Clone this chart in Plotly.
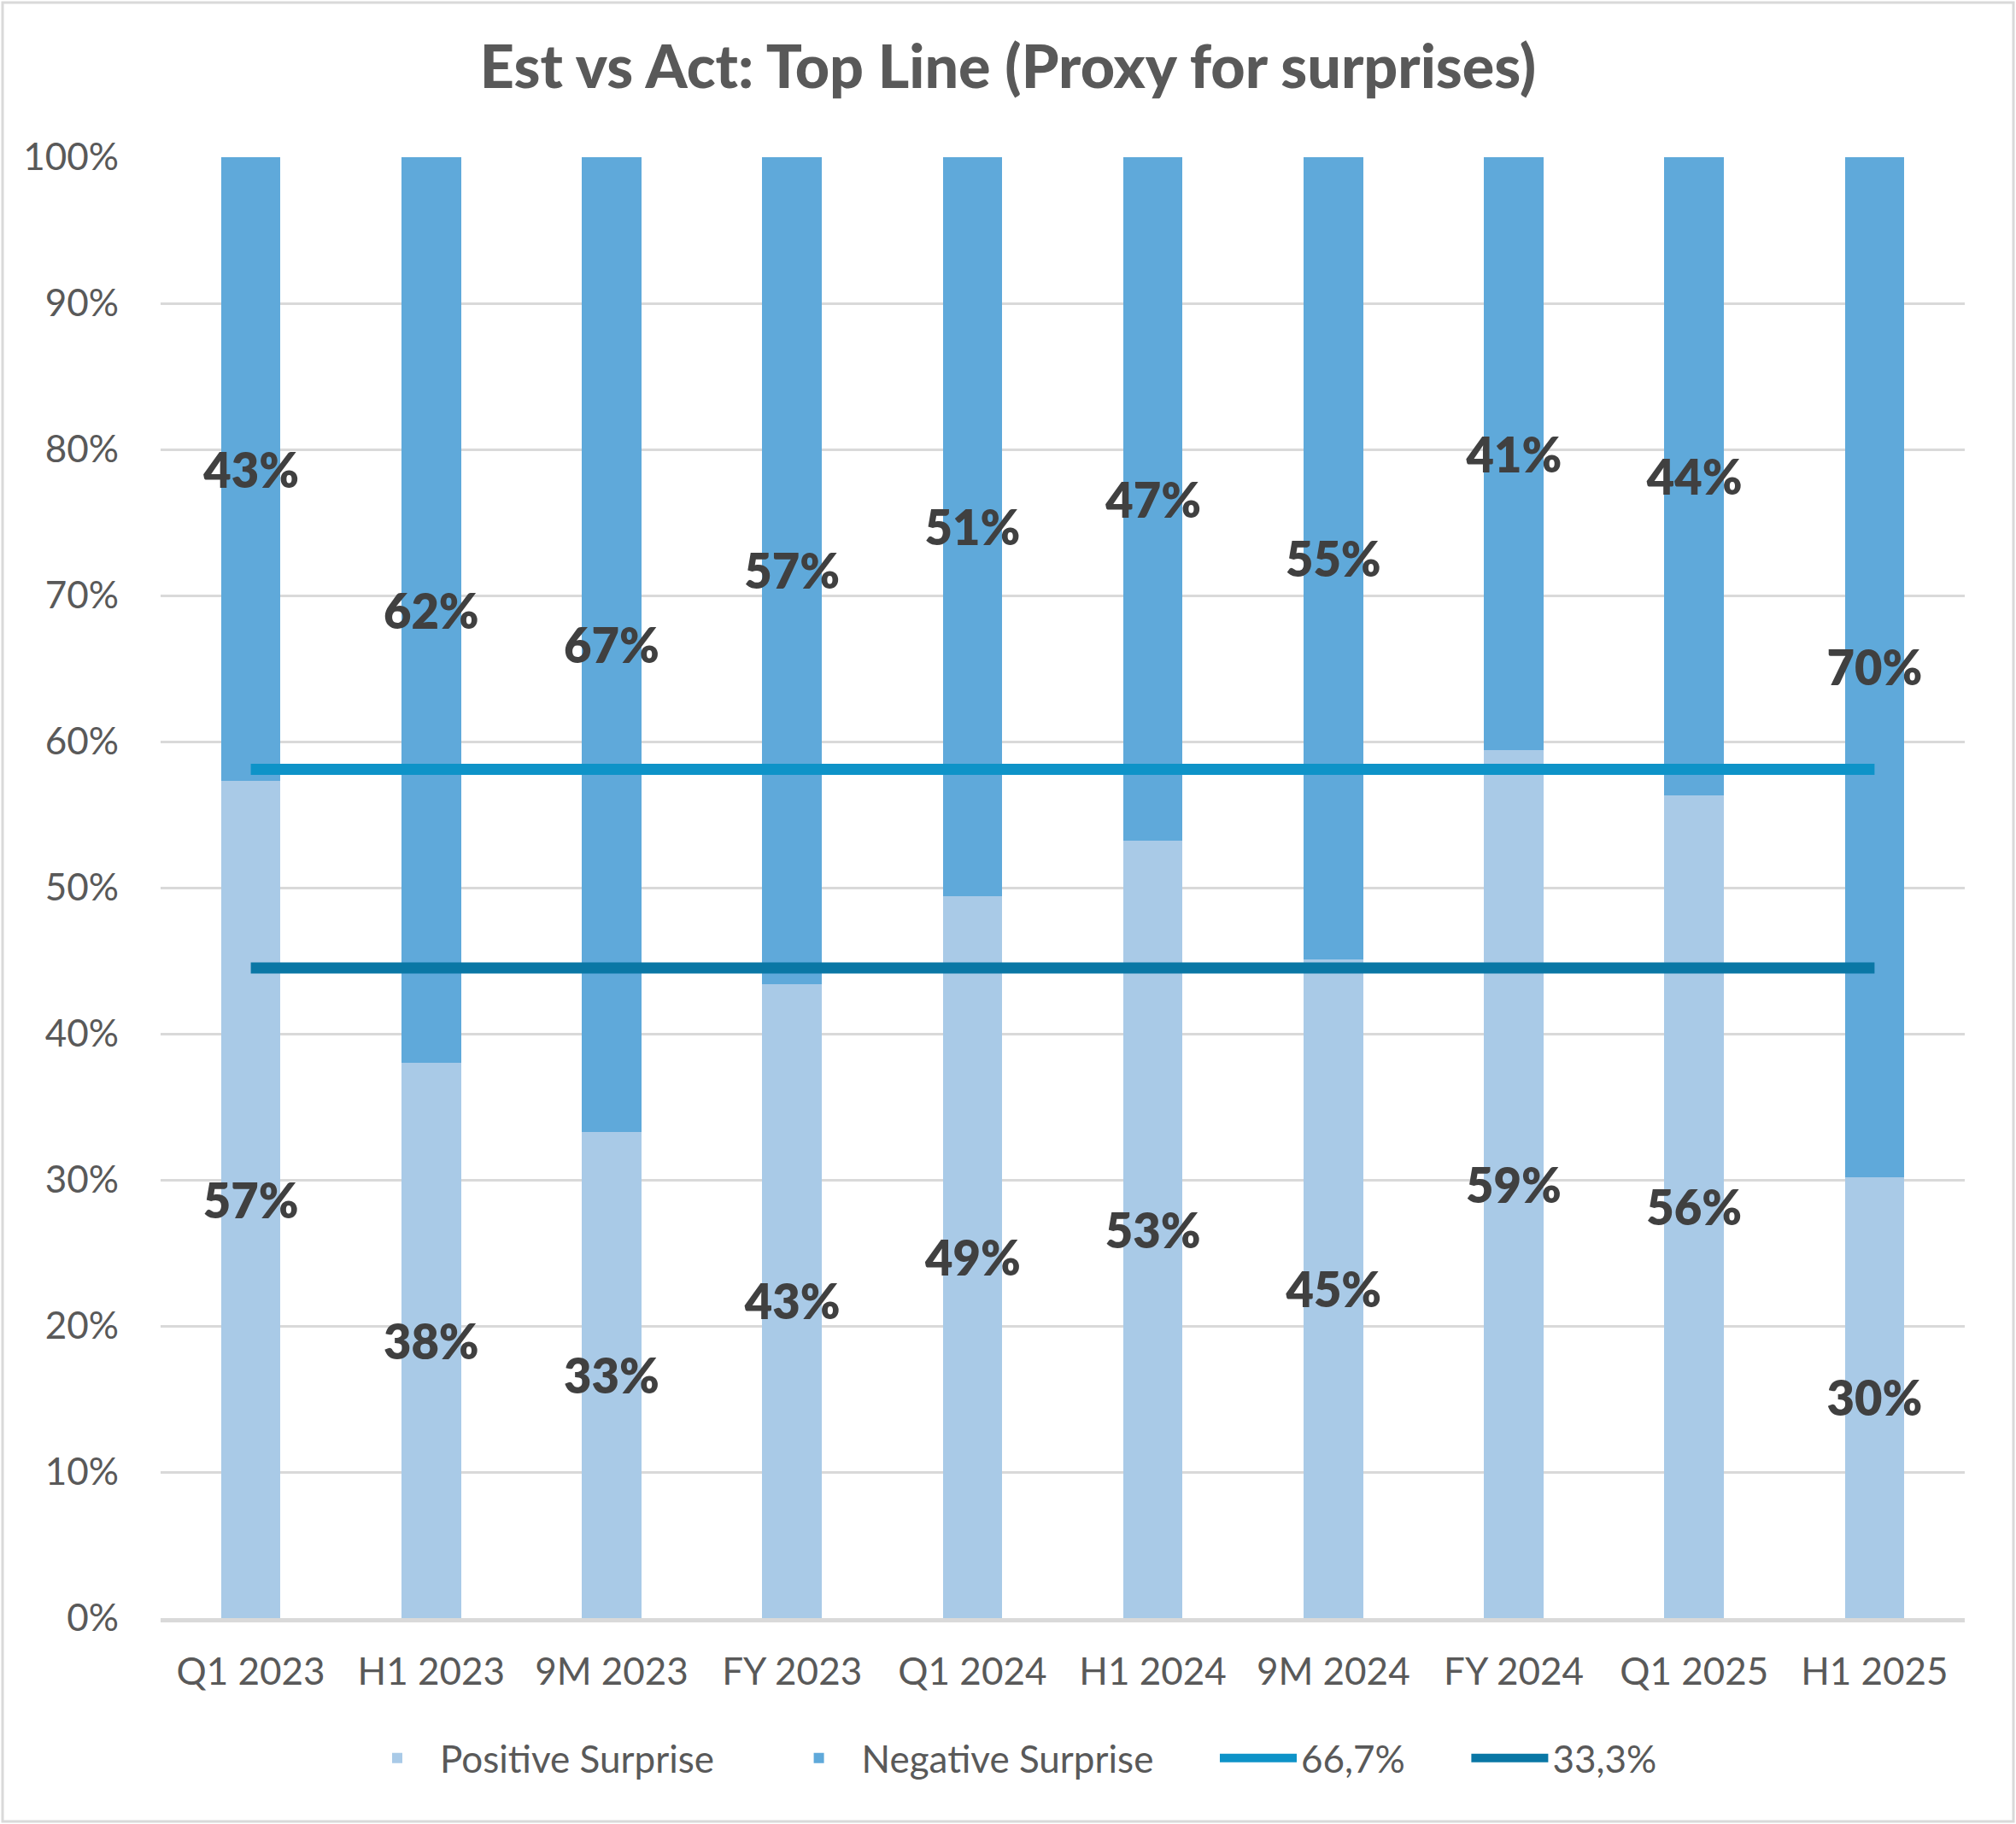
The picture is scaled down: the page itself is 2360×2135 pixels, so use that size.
import plotly.graph_objects as go

categories = ["Q1 2023", "H1 2023", "9M 2023", "FY 2023", "Q1 2024",
              "H1 2024", "9M 2024", "FY 2024", "Q1 2025", "H1 2025"]
positive = [57.3, 38.0, 33.3, 43.4, 49.4, 53.2, 45.1, 59.4, 56.3, 30.2]
negative = [42.7, 62.0, 66.7, 56.6, 50.6, 46.8, 54.9, 40.6, 43.7, 69.8]
line_high = [58.1] * len(categories)
line_low = [44.5] * len(categories)
y_ticks = [0, 10, 20, 30, 40, 50, 60, 70, 80, 90, 100]
y_ticktext = [f"{v}%" for v in y_ticks]

W, H = 2360, 2135
ML, MR, MT, MB = 188, 60, 184, 241
PW = W - ML - MR
PAD = "\u00a0" * 6

label_font = dict(family="Lato", size=56, color="#404040", weight=800)

fig = go.Figure()
fig.add_trace(go.Bar(
    x=categories, y=positive, name="Positive Surprise" + PAD,
    marker=dict(color="#A9CAE7", line=dict(width=0)),
    texttemplate="%{y:.0f}%", textposition="inside",
    insidetextanchor="middle", constraintext="none",
    textfont=label_font, textangle=0,
))
fig.add_trace(go.Bar(
    x=categories, y=negative, name="Negative Surprise" + PAD,
    marker=dict(color="#5FA9DA", line=dict(width=0)),
    texttemplate="%{y:.0f}%", textposition="inside",
    insidetextanchor="middle", constraintext="none",
    textfont=label_font, textangle=0,
))
fig.add_trace(go.Scatter(
    x=categories, y=line_high, name="66,7%" + PAD, mode="lines",
    line=dict(color="#0E93C8", width=13),
))
fig.add_trace(go.Scatter(
    x=categories, y=line_low, name="33,3%", mode="lines",
    line=dict(color="#0A77A5", width=13),
))

fig.update_layout(
    width=W, height=H,
    margin=dict(l=ML, r=MR, t=MT, b=MB, autoexpand=False),
    paper_bgcolor="white", plot_bgcolor="white",
    barmode="stack", bargap=0.67,
    title=dict(text="Est vs Act: Top Line (Proxy for surprises)",
               x=0.5, xref="container", xanchor="center",
               y=1 - 78 / H, yref="container", yanchor="middle",
               font=dict(family="Lato", size=70, color="#595959", weight=900)),
    font=dict(family="Lato", color="#595959", size=44),
    legend=dict(orientation="h", x=(W / 2 - ML) / PW, xanchor="center",
                y=-0.096, yanchor="middle",
                font=dict(family="Lato", size=44, color="#595959"),
                itemwidth=90, traceorder="normal"),
    showlegend=True,
    shapes=[dict(type="rect", xref="paper", yref="paper",
                 x0=-(ML - 3) / PW, x1=1 + (MR - 3) / PW,
                 y0=-(MB - 3) / (H - MT - MB), y1=1 + (MT - 3) / (H - MT - MB),
                 line=dict(color="#D9D9D9", width=3), layer="below")],
)
fig.update_xaxes(
    type="category", showgrid=False, showline=True,
    linecolor="#D9D9D9", linewidth=5,
    tickfont=dict(family="Lato", size=44, color="#595959"),
    ticks="", ticklabelstandoff=20, tickangle=0,
)
fig.update_yaxes(
    range=[0, 100], tickmode="array", tickvals=y_ticks, ticktext=y_ticktext,
    showgrid=True, gridcolor="#D9D9D9", gridwidth=3,
    zeroline=False, showline=False,
    tickfont=dict(family="Lato", size=44, color="#595959"),
    ticks="", ticklabelstandoff=48,
)

fig.write_html("out.html", config={"displayModeBar": False},
               post_script="document.body.style.margin='0px';")
